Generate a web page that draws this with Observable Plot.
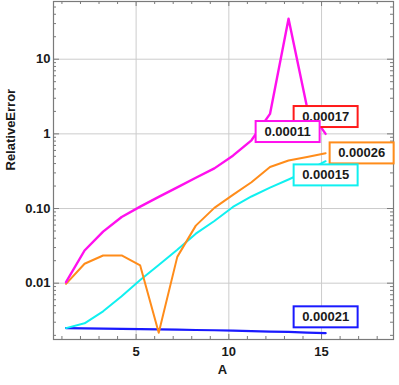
<!DOCTYPE html>
<html><head><meta charset="utf-8">
<script src="https://cdn.jsdelivr.net/npm/d3@7"></script>
<script src="https://cdn.jsdelivr.net/npm/@observablehq/plot@0.6"></script>
<style>body{margin:0;background:#fff}</style>
</head><body><div id="chart"></div>
<script>
// ---- data ----
const A = [1.22, 2.22, 3.22, 4.22, 5.22, 6.22, 7.22, 8.22, 9.22, 10.22, 11.22, 12.22, 13.22, 14.22, 15.22];
const magenta = [0.0103, 0.0274, 0.049, 0.077, 0.106, 0.143, 0.192, 0.258, 0.345, 0.51, 0.82, 1.85, 34.8, 2.25, 1.0];
const orange  = [0.0098, 0.0182, 0.0235, 0.0235, 0.0173, 0.00217, 0.0225, 0.059, 0.102, 0.152, 0.225, 0.36, 0.44, 0.49, 0.55];
const cyan    = [0.0025, 0.0029, 0.0042, 0.0067, 0.011, 0.0175, 0.028, 0.046, 0.068, 0.105, 0.145, 0.19, 0.245, 0.32, 0.43];
const blue    = [0.00250, 0.00248, 0.00246, 0.00244, 0.00242, 0.00240, 0.00238, 0.00236, 0.00234, 0.00231, 0.00228, 0.00225, 0.00222, 0.00218, 0.00214];

const xTicks = [5, 10, 15];
const xTickLabels = ["5", "10", "15"];
const xMinorTicks = [1, 2, 3, 4, 6, 7, 8, 9, 11, 12, 13, 14, 16, 17, 18];
const yTicks = [0.01, 0.1, 1, 10];
const yTickLabels = ["0.01", "0.10", "1", "10"];
const yMinorTicks = [0.002,0.003,0.004,0.005,0.006,0.007,0.008,0.009,
                     0.02,0.03,0.04,0.05,0.06,0.07,0.08,0.09,
                     0.2,0.3,0.4,0.5,0.6,0.7,0.8,0.9,
                     2,3,4,5,6,7,8,9,20,30,40,50];

const calloutLabels = ["0.00017", "0.00011", "0.00026", "0.00015", "0.00021"];
const calloutColors = ["#ff1a1a", "#ff10ee", "#ff8c1a", "#10f0f0", "#1a1aff"];
const calloutAnchors = [magenta, magenta, orange, cyan, blue];

const xLabel = "A";
const yLabel = "RelativeError";

// ---- layout / style ----
const frameGray = "#7a7a7a";
const offsets = [[0, -17], [-38, -2], [36, 0], [0, 14], [0, -16]];
const last = A.length - 1;
const FW = 399 - 53 - 6, FH = 385 - 1 - 46;

const line = (vals, color, w) => Plot.line(vals, {x: (d, i) => A[i], y: d => d, stroke: color, strokeWidth: w, strokeLinejoin: "round"});

const callouts = calloutLabels.map((t, k) => Plot.text([t], {
  x: [A[last]], y: [calloutAnchors[k][last]], text: d => d,
  dx: offsets[k][0], dy: offsets[k][1],
  fill: "#1a1a1a", fontSize: 13, fontWeight: "bold"
}));

const plot = Plot.plot({
  width: 399, height: 385,
  marginLeft: 53, marginRight: 6, marginTop: 1, marginBottom: 46,
  style: {fontFamily: "'Liberation Sans', Arial, sans-serif", fontWeight: "bold", fontSize: "13px", color: "#1a1a1a", background: "white"},
  x: {domain: [0.545, 18.88]},
  y: {type: "log", domain: [0.00176, 59.3]},
  marks: [
    Plot.gridX({ticks: xTicks, stroke: "#cccccc", strokeOpacity: 1}),
    Plot.gridY({ticks: yTicks, stroke: "#cccccc", strokeOpacity: 1}),
    // inward frame ticks
    Plot.tickX(xMinorTicks, {x: d => d, insetTop: FH - 3, stroke: frameGray}),
    Plot.tickX(xTicks, {x: d => d, insetTop: FH - 5, stroke: frameGray}),
    Plot.tickX(xMinorTicks, {x: d => d, insetBottom: FH - 3, stroke: frameGray}),
    Plot.tickX(xTicks, {x: d => d, insetBottom: FH - 5, stroke: frameGray}),
    Plot.tickY(yMinorTicks, {y: d => d, insetRight: FW - 3, stroke: frameGray}),
    Plot.tickY(yTicks, {y: d => d, insetRight: FW - 6, stroke: frameGray}),
    Plot.tickY(yMinorTicks, {y: d => d, insetLeft: FW - 3, stroke: frameGray}),
    Plot.tickY(yTicks, {y: d => d, insetLeft: FW - 6, stroke: frameGray}),
    Plot.frame({stroke: frameGray, strokeWidth: 1.2}),
    Plot.axisX({ticks: xTicks, tickSize: 0, tickPadding: 7, tickFormat: d => xTickLabels[xTicks.indexOf(d)], label: null, fontSize: 13, fontWeight: "bold"}),
    Plot.axisY({ticks: yTicks, tickSize: 0, tickPadding: 3, tickFormat: d => yTickLabels[yTicks.indexOf(d)], label: null, fontSize: 13, fontWeight: "bold"}),
    Plot.text([xLabel], {frameAnchor: "bottom", dy: 34, dx: -1, fontSize: 13, fontWeight: "bold"}),
    Plot.text([yLabel], {frameAnchor: "left", rotate: -90, dx: -43, fontSize: 13, fontWeight: "bold"}),
    line(blue, "#1a1aff", 2.2),
    line(cyan, "#10f0f0", 2),
    line(orange, "#ff8c1a", 2),
    line(magenta, "#ff10ee", 2.4),
    ...callouts
  ]
});
document.getElementById("chart").appendChild(plot);

// draw the callout boxes behind each callout text
Array.from(plot.querySelectorAll("text")).forEach(t => {
  const k = calloutLabels.indexOf(t.textContent.trim());
  if (k < 0) return;
  const b = t.getBBox();
  const cx = b.x + b.width / 2, cy = b.y + b.height / 2;
  const r = document.createElementNS("http://www.w3.org/2000/svg", "rect");
  r.setAttribute("x", cx - 32);
  r.setAttribute("y", cy - 10.5);
  r.setAttribute("width", 64);
  r.setAttribute("height", 21);
  r.setAttribute("fill", "white");
  r.setAttribute("stroke", calloutColors[k]);
  r.setAttribute("stroke-width", 2);
  const tr = t.getAttribute("transform");
  if (tr) r.setAttribute("transform", tr);
  t.parentNode.insertBefore(r, t);
});
</script>
</body></html>
